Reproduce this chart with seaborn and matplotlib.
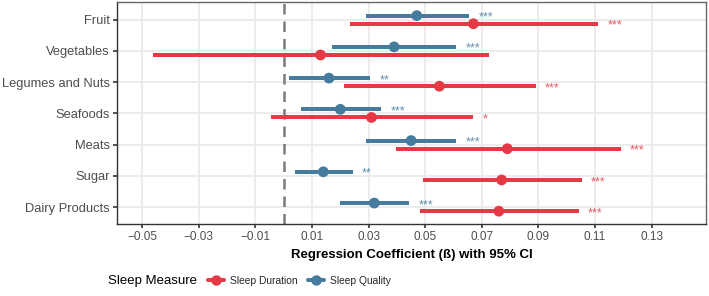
import matplotlib
matplotlib.use('Agg')
import matplotlib.pyplot as plt
import seaborn as sns
import pandas as pd
import numpy as np
from matplotlib.lines import Line2D

# Food groups, top to bottom
foods = ['Fruit', 'Vegetables', 'Legumes and Nuts', 'Seafoods', 'Meats', 'Sugar', 'Dairy Products']

# Sleep Duration coefficients and 95% CI
duration_est = [0.067, 0.013, 0.055, 0.031, 0.079, 0.077, 0.076]
duration_lo = [0.0235, -0.046, 0.0214, -0.0046, 0.0396, 0.0493, 0.0482]
duration_hi = [0.111, 0.0725, 0.089, 0.067, 0.119, 0.1053, 0.1042]
duration_sig = ['***', '', '***', '*', '***', '***', '***']

# Sleep Quality coefficients and 95% CI
quality_est = [0.047, 0.039, 0.016, 0.020, 0.045, 0.014, 0.032]
quality_lo = [0.029, 0.017, 0.002, 0.006, 0.029, 0.0039, 0.0199]
quality_hi = [0.0655, 0.061, 0.0305, 0.0344, 0.061, 0.0244, 0.0444]
quality_sig = ['***', '***', '**', '***', '***', '**', '***']

x_ticks = [-0.05, -0.03, -0.01, 0.01, 0.03, 0.05, 0.07, 0.09, 0.11, 0.13]

colors = {'Sleep Duration': '#E63946', 'Sleep Quality': '#457B9D'}
offsets = {'Sleep Duration': 0.13, 'Sleep Quality': -0.13}

rows = []
for i, f in enumerate(foods):
    rows.append(dict(food=f, measure='Sleep Duration', est=duration_est[i],
                     lo=duration_lo[i], hi=duration_hi[i], sig=duration_sig[i]))
    rows.append(dict(food=f, measure='Sleep Quality', est=quality_est[i],
                     lo=quality_lo[i], hi=quality_hi[i], sig=quality_sig[i]))
df = pd.DataFrame(rows)
df['y'] = df['food'].map({f: i for i, f in enumerate(foods)}) + df['measure'].map(offsets)

sns.set_theme(style='whitegrid')
plt.rcParams['font.family'] = ['Liberation Sans', 'DejaVu Sans']
plt.rcParams['axes.unicode_minus'] = True

fig = plt.figure(figsize=(7.09, 2.96), dpi=100)
ax = fig.add_axes([0.1646, 0.2422, 0.8312, 0.7494])

# reference line at zero
ax.axvline(0, color='#7a7a7a', lw=1.8, ls=(0, (4.2, 2.8)), zorder=1)

# confidence intervals
for m, sub in df.groupby('measure'):
    ax.hlines(sub['y'], sub['lo'], sub['hi'], color=colors[m], lw=2.9, zorder=2)

sns.scatterplot(data=df, x='est', y='y', hue='measure', palette=colors,
                s=60, edgecolor='none', legend=False, zorder=3, ax=ax)

# significance stars
for _, r in df.iterrows():
    if r['sig']:
        ax.text(r['hi'] + 0.0033, r['y'] + 0.16, r['sig'], color=colors[r['measure']],
                fontsize=9, ha='left', va='baseline', alpha=0.85, zorder=4)

ax.set_xlim(-0.059, 0.1492)
ax.set_ylim(len(foods) - 0.45, -0.55)
ax.set_xticks(x_ticks)
ax.set_xticklabels([f'{t:.2f}'.replace('-', '\u2212') for t in x_ticks])
ax.set_yticks(range(len(foods)))
ax.set_yticklabels(foods)
ax.set_xlabel('Regression Coefficient (\u00df) with 95% CI', fontsize=9.5,
              fontweight='bold', color='black', labelpad=4)
ax.set_ylabel('')

ax.grid(True, color='#ebebeb', lw=1.3)
ax.set_axisbelow(True)
for s in ax.spines.values():
    s.set_color('#666666')
    s.set_linewidth(1.0)
ax.spines['left'].set_color('#333333')
ax.spines['bottom'].set_color('#333333')
ax.tick_params(axis='y', labelsize=9.3, labelcolor='#4d4d4d', length=3, width=1.2,
               color='#333333', left=True, pad=2)
ax.tick_params(axis='x', labelsize=8.5, labelcolor='#4d4d4d', length=3, width=1.2,
               color='#333333', bottom=True, pad=2)

# legend at the bottom
fig.text(0.152, 0.052, 'Sleep Measure', fontsize=9.5, color='black', va='center', ha='left')
handles = [Line2D([0], [0], color=colors[m], lw=2.9, marker='o', markersize=6.5)
           for m in ['Sleep Duration', 'Sleep Quality']]
fig.legend(handles, ['Sleep Duration', 'Sleep Quality'], ncol=2, frameon=False,
           loc='center left', bbox_to_anchor=(0.287, 0.052), fontsize=7.4,
           handlelength=1.6, handletextpad=0.55, columnspacing=1.0, borderaxespad=0)

fig.savefig('out.png', dpi=100)
